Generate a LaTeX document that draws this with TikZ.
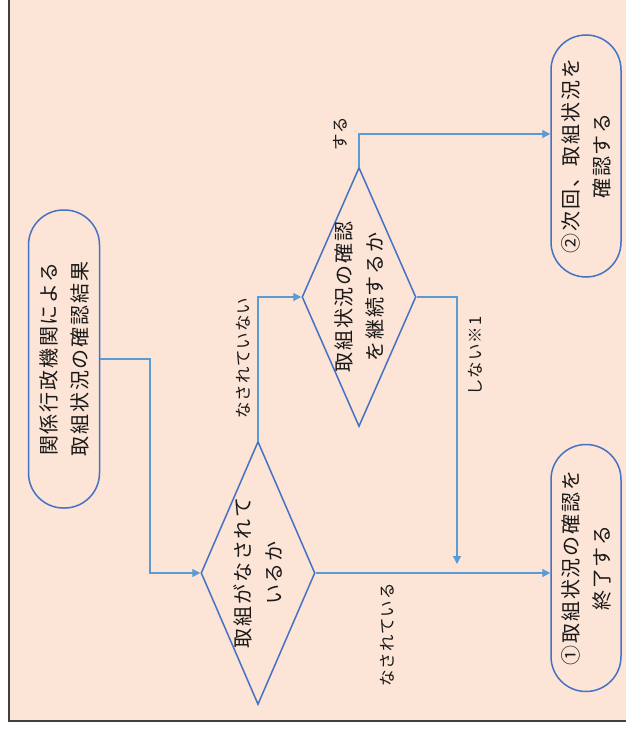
\documentclass[tikz,border=0pt]{standalone}
\usepackage{fontspec}
\setmainfont{Noto Sans CJK JP}
\newfontfamily\jpfont[LetterSpace=9]{Noto Sans CJK JP}
\newfontfamily\jplabel[LetterSpace=6]{Noto Sans CJK JP}
\usetikzlibrary{shapes.geometric,arrows.meta}
\definecolor{bgpeach}{HTML}{FCE4D6}
\definecolor{nodeblue}{HTML}{4472C4}
\definecolor{arrowblue}{HTML}{5B9BD5}
\definecolor{framegray}{HTML}{404040}
\tikzset{
  stadium/.style={draw=nodeblue, line width=1.5pt, rounded corners=35pt, inner sep=0pt},
  decision/.style={diamond, draw=nodeblue, line width=1.5pt, inner sep=0pt},
  nodetext/.style={rotate=90, align=center, font=\jpfont\fontsize{20}{31}\selectfont, text=black!90, inner sep=0pt},
  edgelabel/.style={rotate=90, font=\jplabel\fontsize{16.5}{20}\selectfont, text=black!90, inner sep=0pt},
  arr/.style={draw=arrowblue, line width=1.2pt, -{Triangle[length=8pt,width=8pt]}}
}
\begin{document}
\begin{tikzpicture}[x=1pt,y=-1pt]
\useasboundingbox (0,0) rectangle (626,730);
\fill[bgpeach] (9,0) rectangle (626,721);
\draw[framegray, line width=2pt] (9,0) -- (9,721) -- (626,721);

% nodes
\node[stadium, minimum width=71pt, minimum height=298pt] (start) at (64,359) {};
\node[nodetext] (starttext) at (start) {関係行政機関による\\取組状況の確認結果};

\node[decision, minimum width=114pt, minimum height=263pt] (d1) at (258,573) {};
\node[nodetext] (d1text) at (d1) {取組がなされて\\いるか};

\node[decision, minimum width=114pt, minimum height=259pt] (d2) at (359,297) {};
\node[nodetext] (d2text) at (d2) {取組状況の確認\\を継続するか};

\node[stadium, minimum width=70pt, minimum height=242pt] (end2) at (586,156) {};
\node[nodetext] (end2text) at (end2) {②次回、取組状況を\\確認する};

\node[stadium, minimum width=70pt, minimum height=247pt] (end1) at (586,568) {};
\node[nodetext] (end1text) at (end1) {①取組状況の確認を\\終了する};

% connectors
\coordinate (bendA) at (150,359);
\draw[arr] (start.east) -- (bendA) |- (d1.west);
\draw[arr] (d1.north) |- (d2.west);
\draw[arr] (d1.east) -- (d1.east -| end1.west);
\coordinate (yesTarget) at ([yshift=22pt]end2.west);
\draw[arr] (d2.north) |- (yesTarget);
\coordinate (noTarget) at (457,564);
\draw[arr] (d2.east) -| (noTarget);

% labels
\node[edgelabel] (lab1) at (243,358) {なされていない};
\node[edgelabel] (lab2) at (387,635) {なされている};
\node[edgelabel] (lab3) at (340,134) {する};
\node[edgelabel] (lab4) at (475,356) {しない※1};
\end{tikzpicture}
\end{document}
